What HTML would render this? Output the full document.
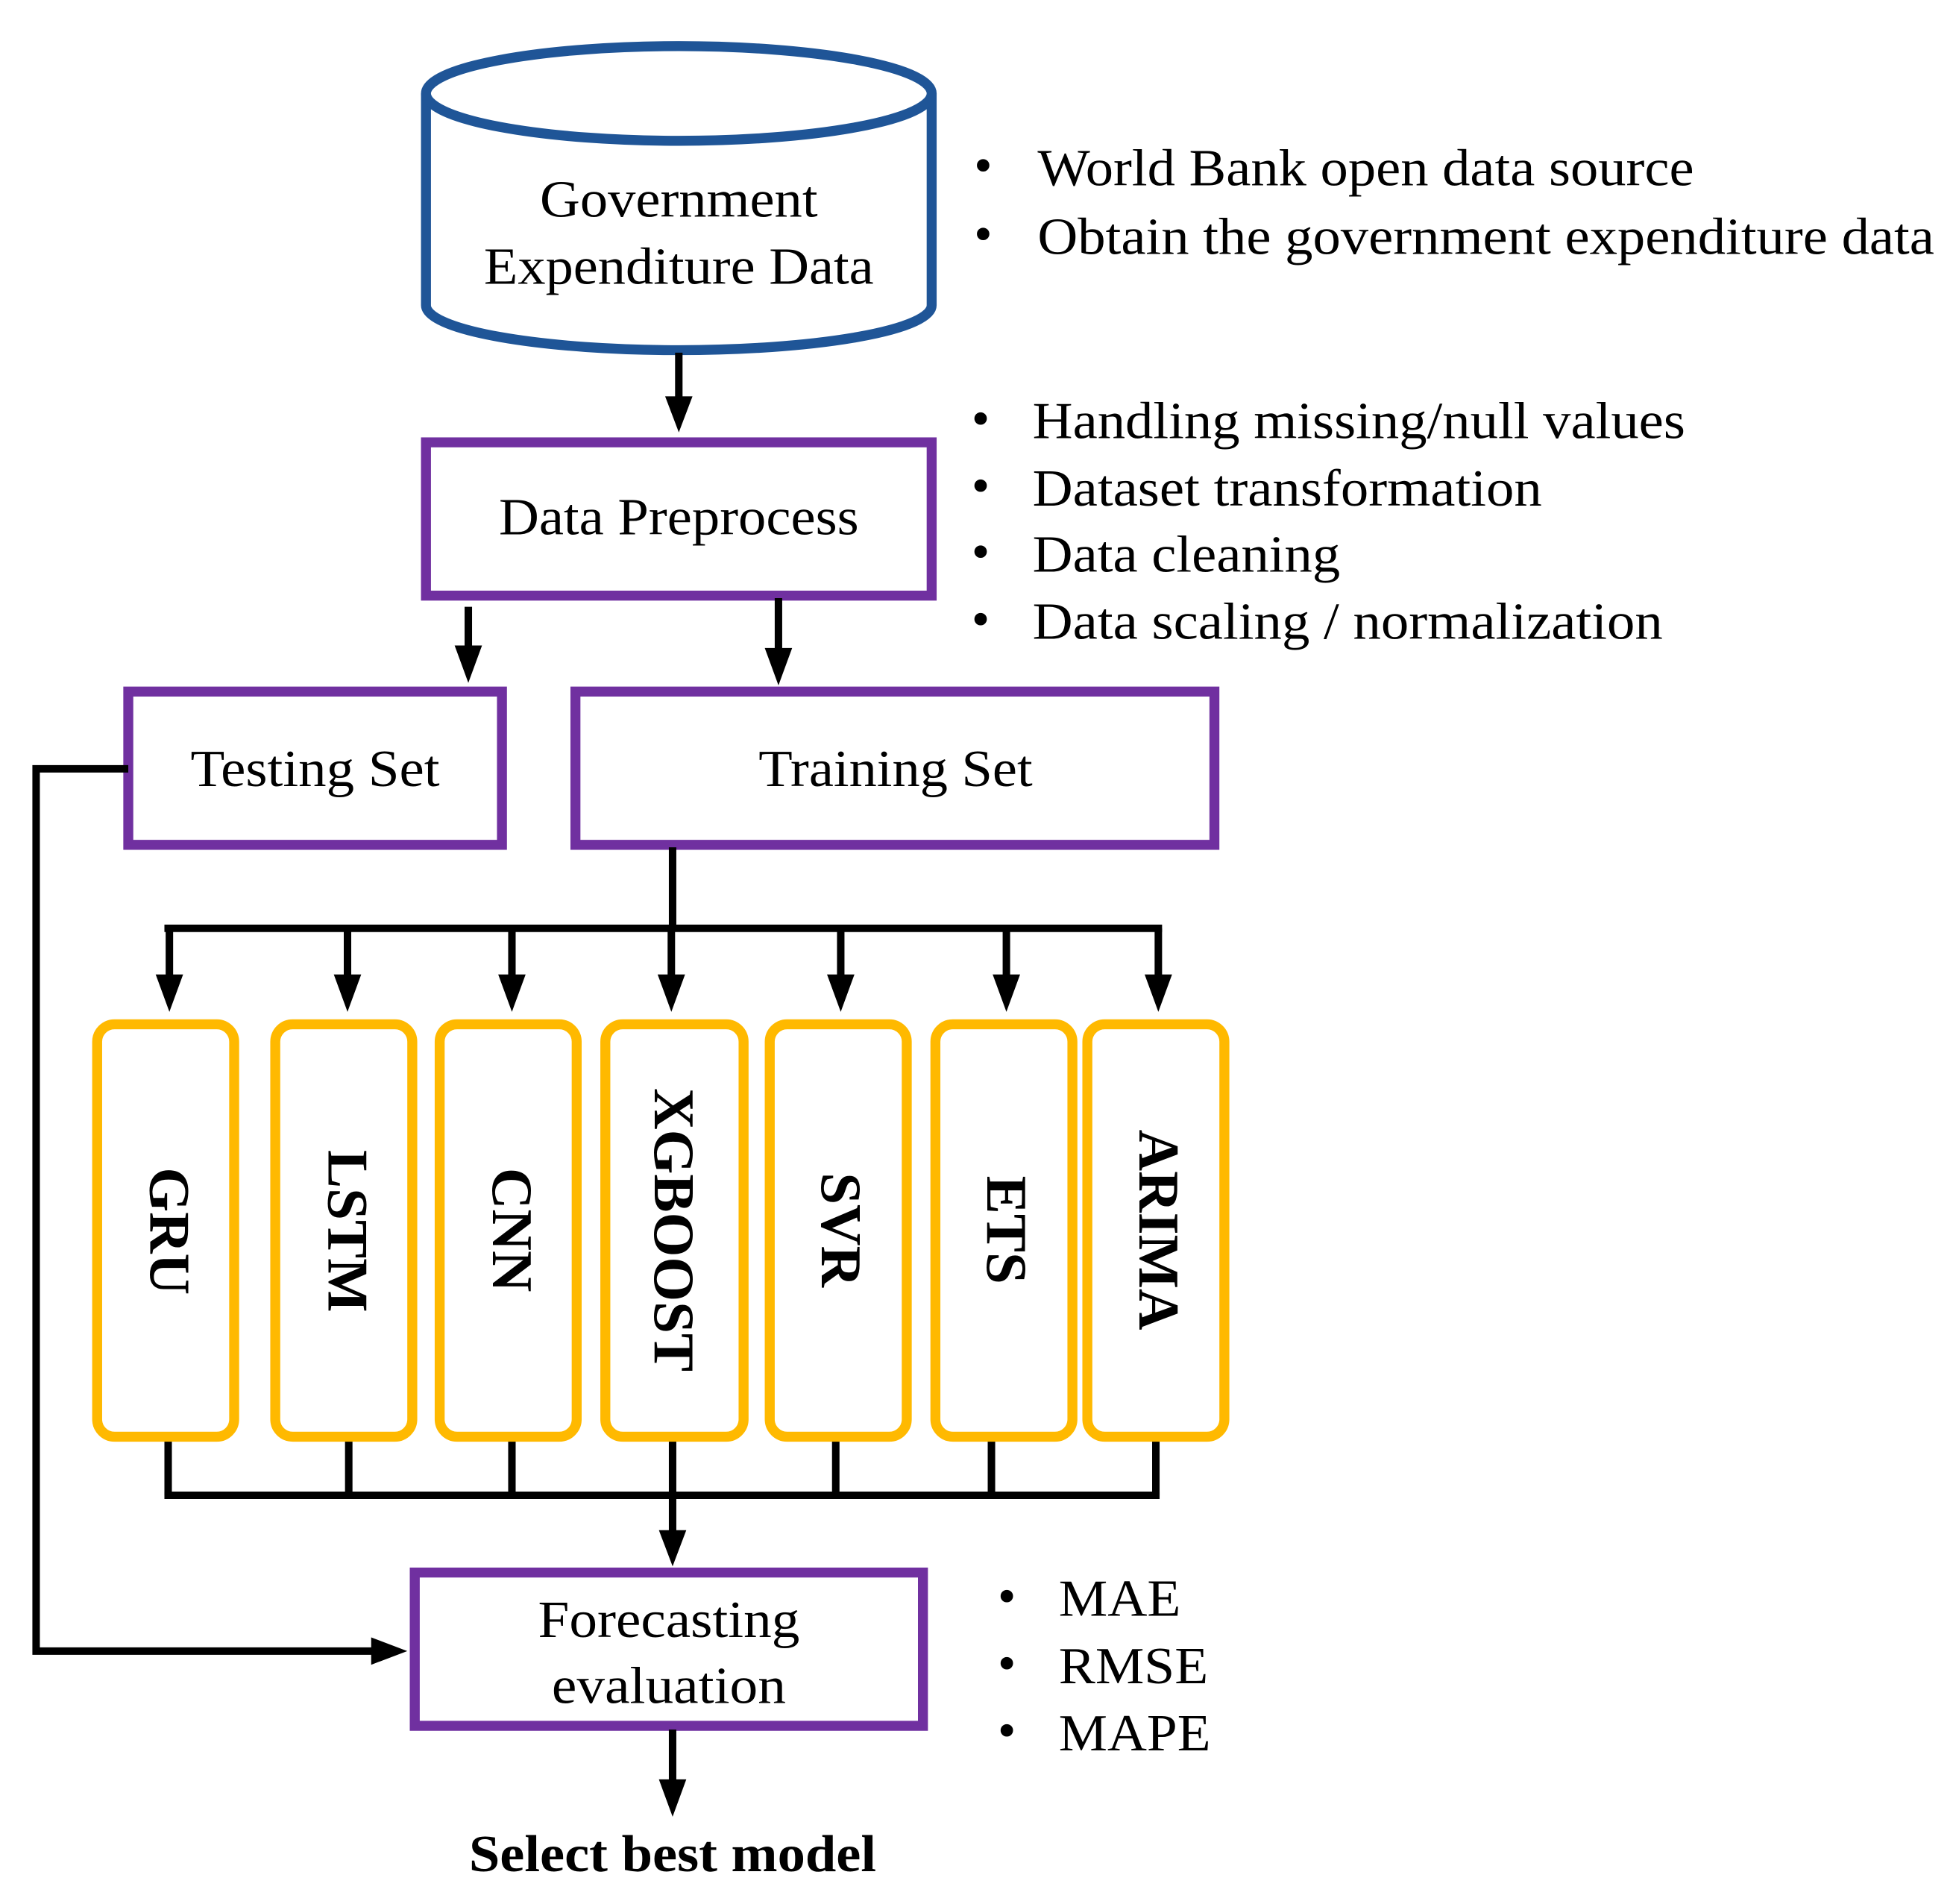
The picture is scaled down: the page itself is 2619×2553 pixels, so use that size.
<!DOCTYPE html>
<html><head><meta charset="utf-8"><style>
html,body{margin:0;padding:0;background:#fff;}
svg{display:block;}
text{font-family:"Liberation Serif",serif;fill:#000;}
</style></head><body>
<svg width="2619" height="2553" viewBox="0 0 1568 1528" preserveAspectRatio="none" xmlns="http://www.w3.org/2000/svg">
<!-- cylinder -->
<g fill="none" stroke="#1F5597" stroke-width="8">
<path d="M342,75 L342,245 A203,36 0 0 0 748,245 L748,75"/>
<ellipse cx="545" cy="75" rx="203" ry="38" fill="#fff"/>
</g>
<g font-size="42" text-anchor="middle" dominant-baseline="central" lengthAdjust="spacingAndGlyphs">
<text x="545" y="160" textLength="223" lengthAdjust="spacingAndGlyphs">Government</text>
<text x="545" y="214" textLength="313" lengthAdjust="spacingAndGlyphs">Expenditure Data</text>
</g>
<g font-size="42" dominant-baseline="central">
<text x="782" y="133">•</text><text x="833" y="135" textLength="527" lengthAdjust="spacingAndGlyphs">World Bank open data source</text>
<text x="782" y="188">•</text><text x="833" y="190" textLength="720" lengthAdjust="spacingAndGlyphs">Obtain the government expenditure data</text>
<text x="780" y="336">•</text><text x="829" y="338" textLength="524" lengthAdjust="spacingAndGlyphs">Handling missing/null values</text>
<text x="780" y="390">•</text><text x="829" y="392" textLength="409" lengthAdjust="spacingAndGlyphs">Dataset transformation</text>
<text x="780" y="443">•</text><text x="829" y="445" textLength="247" lengthAdjust="spacingAndGlyphs">Data cleaning</text>
<text x="780" y="497">•</text><text x="829" y="499" textLength="506" lengthAdjust="spacingAndGlyphs">Data scaling / normalization</text>
<text x="801" y="1281">•</text><text x="850" y="1283" textLength="98" lengthAdjust="spacingAndGlyphs">MAE</text>
<text x="801" y="1335">•</text><text x="850" y="1337" textLength="120" lengthAdjust="spacingAndGlyphs">RMSE</text>
<text x="801" y="1389">•</text><text x="850" y="1391" textLength="122" lengthAdjust="spacingAndGlyphs">MAPE</text>
</g>
<!-- purple boxes -->
<g fill="none" stroke="#7030A0" stroke-width="8">
<rect x="342" y="355" width="406" height="123"/>
<rect x="103" y="555" width="300" height="123"/>
<rect x="462" y="555" width="513" height="123"/>
<rect x="333" y="1262" width="408" height="123"/>
</g>
<g font-size="42" text-anchor="middle" dominant-baseline="central">
<text x="545" y="415" textLength="289" lengthAdjust="spacingAndGlyphs">Data Preprocess</text>
<text x="253" y="617" textLength="200" lengthAdjust="spacingAndGlyphs">Testing Set</text>
<text x="719" y="617" textLength="220" lengthAdjust="spacingAndGlyphs">Training Set</text>
<text x="537" y="1300" textLength="210" lengthAdjust="spacingAndGlyphs">Forecasting</text>
<text x="537" y="1353" textLength="188" lengthAdjust="spacingAndGlyphs">evaluation</text>
<text x="540" y="1488" font-weight="bold" textLength="327" lengthAdjust="spacingAndGlyphs">Select best model</text>
</g>
<!-- connectors -->
<g stroke="#000" stroke-width="6" fill="none">
<line x1="545" y1="283" x2="545" y2="320"/>
<line x1="376" y1="487" x2="376" y2="520"/>
<line x1="625" y1="480" x2="625" y2="522"/>
<line x1="540" y1="680" x2="540" y2="745"/>
<line x1="132" y1="745" x2="933" y2="745"/>
<line x1="136" y1="745" x2="136" y2="785"/>
<line x1="279" y1="745" x2="279" y2="785"/>
<line x1="411" y1="745" x2="411" y2="785"/>
<line x1="539" y1="745" x2="539" y2="785"/>
<line x1="675" y1="745" x2="675" y2="785"/>
<line x1="808" y1="745" x2="808" y2="785"/>
<line x1="930" y1="745" x2="930" y2="785"/>
<line x1="135" y1="1155" x2="135" y2="1200"/>
<line x1="280" y1="1155" x2="280" y2="1200"/>
<line x1="411" y1="1155" x2="411" y2="1200"/>
<line x1="540" y1="1155" x2="540" y2="1200"/>
<line x1="671" y1="1155" x2="671" y2="1200"/>
<line x1="796" y1="1155" x2="796" y2="1200"/>
<line x1="928" y1="1155" x2="928" y2="1200"/>
<line x1="132" y1="1200" x2="931" y2="1200"/>
<line x1="540" y1="1200" x2="540" y2="1230"/>
<polyline points="103,617 29,617 29,1325 300,1325"/>
<line x1="540" y1="1388" x2="540" y2="1430"/>
</g>
<g fill="#000">
<polygon points="534,318 556,318 545,347"/>
<polygon points="365,518 387,518 376,548"/>
<polygon points="614,520 636,520 625,550"/>
<polygon points="125,782 147,782 136,812"/>
<polygon points="268,782 290,782 279,812"/>
<polygon points="400,782 422,782 411,812"/>
<polygon points="528,782 550,782 539,812"/>
<polygon points="664,782 686,782 675,812"/>
<polygon points="797,782 819,782 808,812"/>
<polygon points="919,782 941,782 930,812"/>
<polygon points="529,1228 551,1228 540,1257"/>
<polygon points="298,1314 298,1336 327,1325"/>
<polygon points="529,1428 551,1428 540,1458"/>
</g>
<!-- model boxes -->
<g fill="none" stroke="#FFB900" stroke-width="8">
<rect x="78" y="822" width="110" height="331" rx="14"/>
<rect x="221" y="822" width="110" height="331" rx="14"/>
<rect x="353" y="822" width="110" height="331" rx="14"/>
<rect x="486" y="822" width="111" height="331" rx="14"/>
<rect x="618" y="822" width="110" height="331" rx="14"/>
<rect x="751" y="822" width="110" height="331" rx="14"/>
<rect x="873" y="822" width="110" height="331" rx="14"/>
</g>
<g font-size="46" font-weight="bold" text-anchor="middle" dominant-baseline="central">
<text transform="translate(136,988) rotate(90)">GRU</text>
<text transform="translate(279,988) rotate(90)">LSTM</text>
<text transform="translate(411,987) rotate(90)">CNN</text>
<text transform="translate(541,987) rotate(90)">XGBOOST</text>
<text transform="translate(675,987) rotate(90)">SVR</text>
<text transform="translate(808,987) rotate(90)">ETS</text>
<text transform="translate(930,987) rotate(90)">ARIMA</text>
</g>
</svg>
</body></html>
